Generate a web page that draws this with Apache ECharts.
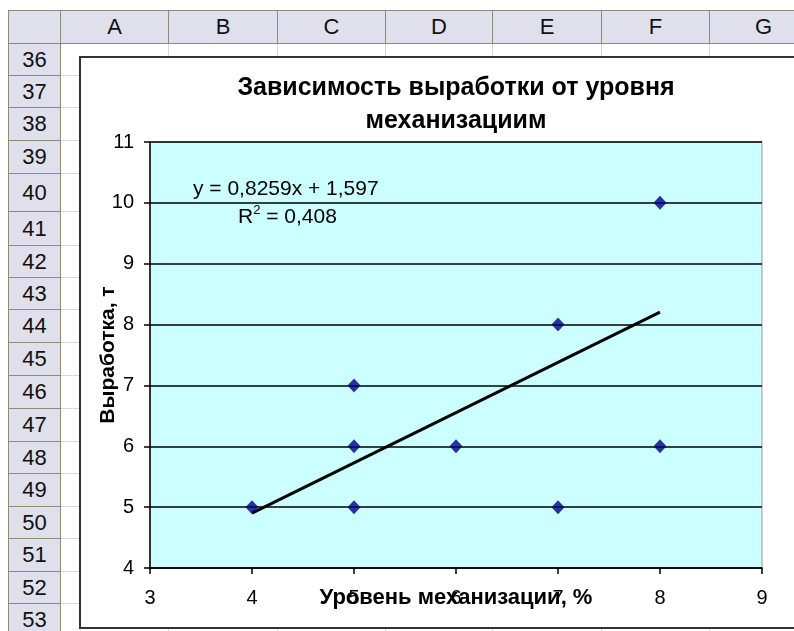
<!DOCTYPE html>
<html>
<head>
<meta charset="utf-8">
<script src="https://cdn.jsdelivr.net/npm/echarts@6/dist/echarts.min.js"></script>
<style>
  html, body { margin: 0; padding: 0; width: 794px; height: 631px; overflow: hidden; background: #fff; }
  #sheet { position: absolute; left: 0; top: 0; width: 794px; height: 631px; overflow: hidden; font-family: "Liberation Sans", Arial, sans-serif; }
  .hdr { position: absolute; background: #e0e0ec; box-sizing: border-box; border: 1px solid #8c8c78; color: #111; display: flex; align-items: center; justify-content: center; font-size: 22px; }
  .gl { position: absolute; background: #d6d6d6; }
  #chartArea { position: absolute; left: 79px; top: 56px; width: 800px; height: 569px; background: #fff; border: 2px solid #333; border-right: none; }
  #chart { position: absolute; left: 0; top: 0; width: 794px; height: 631px; }
</style>
</head>
<body>
<div id="sheet"></div>
<div id="chartArea"></div>
<div id="chart"></div>
<script>
// Worksheet frame: column letters, row numbers and their boundaries (px)
var colNames = ['A', 'B', 'C', 'D', 'E', 'F', 'G'];
var colEdges = [60, 168, 277, 385, 492, 601, 709, 817];
var rowNames = ['36','37','38','39','40','41','42','43','44','45','46','47','48','49','50','51','52','53'];
var rowEdges = [43, 75, 107, 140, 173, 211, 245, 277, 309, 342, 375, 408, 441, 473, 506, 538, 571, 603, 636];

// Scatter data: mechanisation level (%) vs output (t)
var mechLevel = [4, 5, 5, 5, 6, 7, 7, 8, 8];
var outputT   = [5, 7, 6, 5, 6, 8, 5, 10, 6];

// Linear trend y = 0,8259x + 1,597 over the data range
var trendSlope = 0.8259;
var trendIntercept = 1.597;
var trendRange = [4, 8];

var xTicks = [3, 9];
var yTicks = [4, 11];

var chartTitle = 'Зависимость выработки от уровня\nмеханизациим';
var xName = 'Уровень механизации, %';
var yName = 'Выработка, т';
var eqText = 'y = 0,8259x + 1,597';

(function buildSheet() {
  var sheet = document.getElementById('sheet');
  function add(cls, l, t, w, h, txt) {
    var d = document.createElement('div');
    d.className = cls;
    d.style.left = l + 'px'; d.style.top = t + 'px';
    d.style.width = w + 'px'; d.style.height = h + 'px';
    if (txt) d.textContent = txt;
    sheet.appendChild(d);
  }
  // grid lines of the cells
  for (var i = 0; i < colEdges.length; i++) add('gl', colEdges[i], 43, 1, 600);
  for (var j = 0; j < rowEdges.length; j++) add('gl', 60, rowEdges[j], 760, 1);
  // corner + column headers
  add('hdr', 8, 10, 53, 34, '');
  for (var c = 0; c < colNames.length; c++) add('hdr', colEdges[c], 10, colEdges[c + 1] - colEdges[c] + 1, 34, colNames[c]);
  // row headers
  for (var r = 0; r < rowNames.length; r++) add('hdr', 8, rowEdges[r], 53, rowEdges[r + 1] - rowEdges[r] + 1, rowNames[r]);
})();

var points = mechLevel.map(function (x, i) { return [x, outputT[i]]; });
var trend = trendRange.map(function (x) { return [x, trendSlope * x + trendIntercept]; });

var font = '"Liberation Sans", Arial, sans-serif';
var chart = echarts.init(document.getElementById('chart'), null, { renderer: 'canvas' });
chart.setOption({
  animation: false,
  title: {
    text: chartTitle,
    left: 451, top: 67, textAlign: 'center',
    textStyle: { fontFamily: font, fontSize: 25, fontWeight: 'bold', color: '#000', lineHeight: 33 }
  },
  grid: {
    left: 150, top: 142, right: 32, bottom: 63,
    show: true, backgroundColor: '#ccffff', borderColor: '#999', borderWidth: 1
  },
  xAxis: {
    type: 'value', min: xTicks[0], max: xTicks[1], interval: 1,
    name: xName, nameLocation: 'middle', nameGap: 19, nameMoveOverlap: false,
    nameTextStyle: { fontFamily: font, fontSize: 22, fontWeight: 'bold', color: '#000' },
    axisLine: { lineStyle: { color: '#000', width: 1.5 } },
    axisTick: { length: 6, lineStyle: { color: '#000', width: 1.5 } },
    axisLabel: { margin: 20, fontFamily: font, fontSize: 20, color: '#000' },
    splitLine: { show: false }
  },
  yAxis: {
    type: 'value', min: yTicks[0], max: yTicks[1], interval: 1,
    name: yName, nameLocation: 'middle', nameGap: 31, nameRotate: 90, nameMoveOverlap: false,
    nameTextStyle: { fontFamily: font, fontSize: 21, fontWeight: 'bold', color: '#000' },
    axisLine: { lineStyle: { color: '#000', width: 1.5 } },
    axisTick: { length: 6, lineStyle: { color: '#000', width: 1.5 } },
    axisLabel: { margin: 16, fontFamily: font, fontSize: 20, color: '#000' },
    splitLine: { lineStyle: { color: '#000', width: 1.5 } }
  },
  series: [
    {
      type: 'line', data: trend, showSymbol: false, symbol: 'none',
      lineStyle: { color: '#000', width: 3 }, z: 3, silent: true
    },
    {
      type: 'scatter', data: points, symbol: 'diamond', symbolSize: [13, 14],
      itemStyle: { color: '#000080' }, z: 4
    }
  ],
  graphic: [
    {
      type: 'text', left: 193, top: 179, z: 10,
      style: { text: eqText, fontFamily: font, fontSize: 21, fill: '#000' }
    },
    {
      type: 'text', left: 238, top: 204, z: 10,
      style: {
        text: '{b|R}{s|2}{b| = 0,408}',
        rich: {
          b: { fontFamily: font, fontSize: 21, fill: '#000', lineHeight: 24, verticalAlign: 'bottom' },
          s: { fontFamily: font, fontSize: 13, fill: '#000', verticalAlign: 'top' }
        }
      }
    }
  ]
});
</script>
</body>
</html>
